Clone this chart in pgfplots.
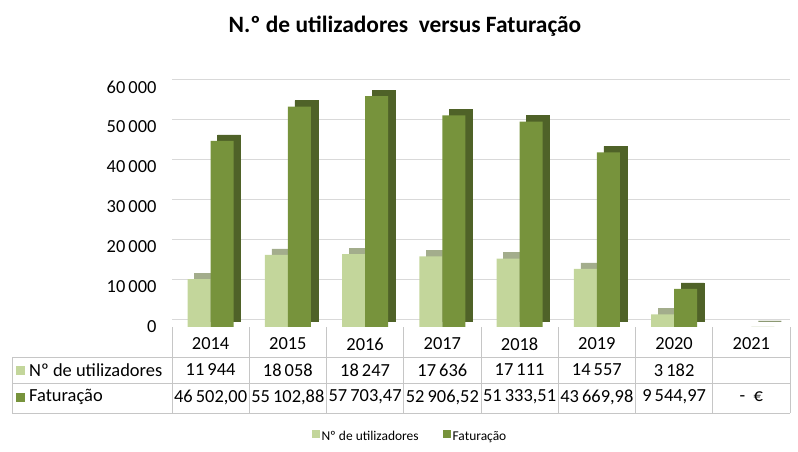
\documentclass[border=0pt]{standalone}
\usepackage{pgfplots}
\pgfplotsset{compat=1.18}
\usepackage{fontspec}
\setmainfont{Carlito}
\definecolor{lightg}{HTML}{C3D69B}
\definecolor{lightgd}{HTML}{A3AD8C}
\definecolor{darkg}{HTML}{77933C}
\definecolor{darkgd}{HTML}{4F6228}
\definecolor{gridc}{HTML}{D9D9D9}
\begin{document}
\begin{tikzpicture}[x=1bp,y=1bp]
\path (0,0) rectangle (798,452);
\node[font=\bfseries\fontsize{23.5}{27}\selectfont] at (405,426) {N.º de utilizadores\ \ versus Faturação};
\begin{axis}[at={(172bp,125bp)}, anchor=south west, scale only axis,
  width=618bp, height=240bp,
  xmin=-0.5, xmax=7.5, ymin=0, ymax=60000,
  ytick={0,10000,...,60000}, xtick=\empty,
  ymajorgrids, major grid style={draw=gridc, line width=0.6bp, yshift=8bp},
  axis line style={draw=none}, major tick length=0pt,
  ybar, bar width=23bp, clip=false,
  scaled y ticks=false,
  yticklabel style={font=\fontsize{18.5}{22}\selectfont, xshift=-12bp},
  /pgf/number format/1000 sep={\,},
  /pgf/number format/assume math mode=true,
  legend style={at={(0.385,-0.458)}, anchor=center, draw=none, legend columns=2,
    font=\fontsize{13.5}{16}\selectfont, /tikz/every even column/.append style={column sep=22bp}},
  legend image code/.code={\fill[#1] (0bp,-1bp) rectangle (8bp,7bp);},
]
\addplot[fill=lightgd, draw=lightgd, bar shift=-11.5bp, xshift=7bp, yshift=6bp, forget plot]
  coordinates {(0,11944) (1,18058) (2,18247) (3,17636) (4,17111) (5,14557) (6,3182)};
\addplot[fill=darkgd, draw=darkgd, bar shift=11.5bp, xshift=7bp, yshift=6bp, forget plot]
  coordinates {(0,46502.00) (1,55102.88) (2,57703.47) (3,52906.52) (4,51333.51) (5,43669.98) (6,9544.97) (7,0)};
\addplot[fill=lightg, draw=none, bar shift=-11.5bp]
  coordinates {(0,11944) (1,18058) (2,18247) (3,17636) (4,17111) (5,14557) (6,3182)};
\addplot[fill=darkg, draw=none, bar shift=11.5bp]
  coordinates {(0,46502.00) (1,55102.88) (2,57703.47) (3,52906.52) (4,51333.51) (5,43669.98) (6,9544.97) (7,0)};
\legend{Nº de utilizadores, Faturação}
\end{axis}
% table
\begin{scope}[draw=gray!45, line width=0.6bp]
\draw (12,95) -- (790,95);
\draw (12,69) -- (790,69);
\draw (12,39) -- (790,39);
\draw (12,39) -- (12,95);
\foreach \i in {0,...,8} {\draw ({172+77.25*\i},39) -- ({172+77.25*\i},125);}
\end{scope}
\begin{scope}[every node/.style={font=\fontsize{18.5}{22}\selectfont, inner sep=0pt}]
\foreach \t [count=\i from 0] in {2014,2015,2016,2017,2018,2019,2020,2021}
  {\node at ({172+77.25*(\i+0.5)},108) {\t};}
\foreach \t [count=\i from 0] in {11\,944,18\,058,18\,247,17\,636,17\,111,14\,557,3\,182}
  {\node at ({172+77.25*(\i+0.5)},82) {\t};}
\node at ({172+77.25*0.5},55) {46\,502,00};
\node at ({172+77.25*1.5},55) {55\,102,88};
\node at ({172+77.25*2.5},55) {57\,703,47};
\node at ({172+77.25*3.5},55) {52\,906,52};
\node at ({172+77.25*4.5},55) {51\,333,51};
\node at ({172+77.25*5.5},55) {43\,669,98};
\node at ({172+77.25*6.5},55) {9\,544,97};
\node at ({172+77.25*7.5},55) {-\ \ €};
\fill[lightg] (16,77) rectangle (25,86);
\fill[darkg] (16,50) rectangle (25,59);
\node[anchor=west] at (29,82) {Nº de utilizadores};
\node[anchor=west] at (29,55) {Faturação};
\end{scope}
\end{tikzpicture}
\end{document}
